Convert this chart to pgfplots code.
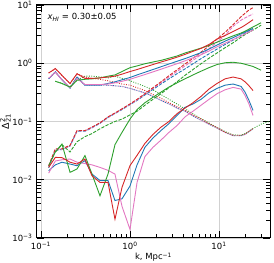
\documentclass[border=0pt]{standalone}
\usepackage{pgfplots}
\pgfplotsset{compat=1.18}
\usepackage{pgfplotstable}
\usepackage{fontspec}
\setmainfont{DejaVu Sans}
\usetikzlibrary{calc}
\definecolor{tb}{HTML}{1F77B4}
\definecolor{tr}{HTML}{D62728}
\definecolor{tg}{HTML}{2CA02C}
\definecolor{tp}{HTML}{E377C2}

\pgfplotstableread{
k     Rt    Bt    Gt    Pt    Rd     Bd     Gd    Pd     Rx    Bx    Gx    Px    Rc     Bc     Gc     Pc
0.122 0.68  0.54  nan   0.55  0.0174 0.016  nan   0.017  0.68  0.54  nan   0.55  0.0163 0.0143 0.0174 0.013
0.145 0.81  0.71  0.49  0.70  0.034  0.032  0.030 0.033  0.81  0.71  0.49  0.70  0.0242 0.018  0.030  0.021
0.172 0.62  0.52  0.45  0.52  0.034  0.033  0.040 0.033  0.62  0.52  0.45  0.52  0.024  0.020  0.041  0.022
0.212 0.45  0.375 0.39  0.38  0.039  0.038  0.030 0.038  0.45  0.375 0.39  0.38  0.020  0.0186 0.0134 0.0227
0.254 0.66  0.58  0.51  0.55  0.070  0.068  0.045 0.069  0.66  0.58  0.51  0.55  0.0186 0.0174 0.0153 0.020
0.312 0.55  0.42  0.53  0.43  0.070  0.068  0.055 0.069  0.58  0.42  0.60  0.43  0.0227 0.0213 0.026  0.019
0.374 0.55  0.42  0.54  0.43  0.080  0.078  0.062 0.079  0.55  0.42  0.60  0.43  0.0117 0.0125 0.0125 0.018
0.460 0.56  0.42  0.56  0.43  0.095  0.093  0.075 0.094  0.53  0.42  0.58  0.43  0.009  0.0097 0.0053 0.0163
0.566 0.58  0.45  0.60  0.44  0.12   0.117  0.088 0.118  0.50  0.42  0.56  0.42  0.009  0.0097 0.0125 0.0145
0.678 0.60  0.48  0.63  0.46  0.14   0.137  0.10  0.138  0.47  0.41  0.60  0.41  0.0021 0.0044 0.040  0.0125
0.813 0.65  0.52  0.72  0.49  0.165  0.16   0.11  0.163  0.44  0.40  0.55  0.40  0.0074 0.0047 0.065  0.0035
1.00  0.72  0.57  0.84  0.53  0.20   0.195  0.13  0.197  0.42  0.37  0.50  0.37  0.0175 0.0078 0.11   0.0014
1.20  0.78  0.63  0.90  0.58  0.24   0.23   0.15  0.235  0.38  0.34  0.45  0.34  0.0262 0.018  0.16   0.009
1.47  0.86  0.70  0.98  0.64  0.30   0.285  0.19  0.295  0.34  0.31  0.40  0.31  0.042  0.036  0.21   0.025
1.81  0.95  0.78  1.05  0.71  0.38   0.355  0.24  0.37   0.29  0.27  0.35  0.27  0.06   0.052  0.26   0.036
2.23  1.05  0.87  1.12  0.79  0.48   0.44   0.30  0.46   0.25  0.23  0.29  0.23  0.08   0.07   0.32   0.048
2.74  1.15  0.97  1.22  0.88  0.61   0.54   0.38  0.58   0.21  0.20  0.24  0.20  0.10   0.092  0.39   0.065
3.37  1.27  1.08  1.33  0.98  0.77   0.66   0.48  0.72   0.18  0.17  0.20  0.17  0.136  0.127  0.46   0.085
4.15  1.42  1.20  1.50  1.10  0.97   0.80   0.62  0.90   0.155 0.15  0.165 0.15  0.17   0.175  0.54   0.12
5.10  1.60  1.35  1.65  1.24  1.22   0.98   0.78  1.12   0.13  0.125 0.135 0.125 0.21   0.2    0.63   0.15
6.28  1.80  1.52  1.82  1.40  1.55   1.20   0.98  1.40   0.11  0.105 0.112 0.105 0.27   0.24   0.73   0.19
7.72  2.10  1.75  2.02  1.62  1.98   1.45   1.22  1.78   0.093 0.09  0.094 0.09  0.36   0.31   0.84   0.24
9.50  2.60  2.05  2.30  1.92  2.6    1.75   1.50  2.3    0.078 0.077 0.079 0.077 0.45   0.37   0.95   0.30
11.7  3.00  2.40  2.60  2.20  3.4    2.1    1.85  3.0    0.066 0.065 0.067 0.065 0.54   0.42   1.02   0.35
14.4  3.50  2.75  2.95  2.55  4.6    2.5    2.25  4.3    0.058 0.057 0.059 0.057 0.58   0.44   1.04   0.385
17.7  4.10  3.20  3.30  2.95  6.3    3.0    2.8   5.5    0.058 0.057 0.058 0.057 0.54   0.40   1.0    0.36
19.6  4.50  3.45  3.55  3.20  7.2    3.3    3.1   6.0    0.061 0.06  0.062 0.06  0.48   0.32   0.96   0.28
21.7  5.00  3.70  3.85  3.45  8.2    3.6    3.4   6.5    0.068 0.067 0.068 0.067 0.41   0.23   0.92   0.2
24.1  5.60  3.96  4.20  3.70  9.0    3.9    3.7   7.0    0.076 0.075 0.076 0.075 0.34   0.155  0.88   0.127
29.7  nan   nan   4.95  nan   nan    nan    4.5   nan    nan   nan   0.09  nan   nan    nan    0.76   nan
36.5  nan   nan   nan   nan   nan    nan    nan   nan    nan   nan   0.10  nan   nan    nan    nan    nan
}\data

\begin{document}
\begin{tikzpicture}
\begin{axis}[
  xmode=log, ymode=log,
  scale only axis, width=233bp, height=233bp,
  xmin=0.0902, xmax=37.4, ymin=1e-3, ymax=10,
  axis line style={line width=1bp},
  tick align=inside, tick pos=both,
  major tick length=7bp, minor tick length=4.5bp,
  every tick/.style={black, line width=0.8bp},
  xtick={0.1,1,10},
  xticklabels={10\textsuperscript{−1},10\textsuperscript{0},10\textsuperscript{1}},
  ytick={0.001,0.01,0.1,1,10},
  yticklabels={10\textsuperscript{−3},10\textsuperscript{−2},10\textsuperscript{−1},10\textsuperscript{0},10\textsuperscript{1}},
  minor xtick={0.2,0.3,0.4,0.5,0.6,0.7,0.8,0.9,2,3,4,5,6,7,8,9,20,30},
  minor ytick={0.002,0.003,0.004,0.005,0.006,0.007,0.008,0.009,0.02,0.03,0.04,0.05,0.06,0.07,0.08,0.09,0.2,0.3,0.4,0.5,0.6,0.7,0.8,0.9,2,3,4,5,6,7,8,9},
  grid=major, major grid style={black!18, line width=0.8bp},
  tick label style={font=\fontsize{8.5}{10}\selectfont},
  xticklabel style={yshift=-1bp},
  yticklabel style={xshift=-1bp},
  xlabel style={font=\fontsize{8.5}{10}\selectfont, yshift=4bp},
  ylabel style={font=\fontsize{9.5}{11}\selectfont, yshift=-5bp},
  xlabel={k, Mpc\textsuperscript{−1}},
  ylabel={Δ\rlap{\textsuperscript{2}}\textsubscript{21}},
  every axis plot/.append style={line width=0.9bp},
  dsh/.style={dash pattern=on 3.3bp off 1.4bp},
  dtt/.style={dash pattern=on 0.9bp off 1.5bp},
]
\addplot[tb, dtt] table[x=k,y=Bx]{\data};
\addplot[tp, dtt] table[x=k,y=Px]{\data};
\addplot[tg, dtt] table[x=k,y=Gx]{\data};
\addplot[tr, dtt] table[x=k,y=Rx]{\data};
\addplot[tb, dsh] table[x=k,y=Bd]{\data};
\addplot[tg, dsh] table[x=k,y=Gd]{\data};
\addplot[tp, dsh] table[x=k,y=Pd]{\data};
\addplot[tr, dsh] table[x=k,y=Rd]{\data};
\addplot[tb] table[x=k,y=Bc]{\data};
\addplot[tp] table[x=k,y=Pc]{\data};
\addplot[tg] table[x=k,y=Gc]{\data};
\addplot[tr] table[x=k,y=Rc]{\data};
\addplot[tb] table[x=k,y=Bt]{\data};
\addplot[tp] table[x=k,y=Pt]{\data};
\addplot[tg] table[x=k,y=Gt]{\data};
\addplot[tr] table[x=k,y=Rt]{\data};
\node[anchor=west, font=\fontsize{8.5}{10}\selectfont] at (axis description cs:0.03,0.948) {\textit{x}\textsubscript{\textit{HI}} = 0.30±0.05};
\end{axis}
\pgfresetboundingbox
\path[use as bounding box] ($(current axis.south west)+(-37bp,-25bp)$) rectangle ($(current axis.north east)+(4bp,5bp)$);
\end{tikzpicture}
\end{document}
